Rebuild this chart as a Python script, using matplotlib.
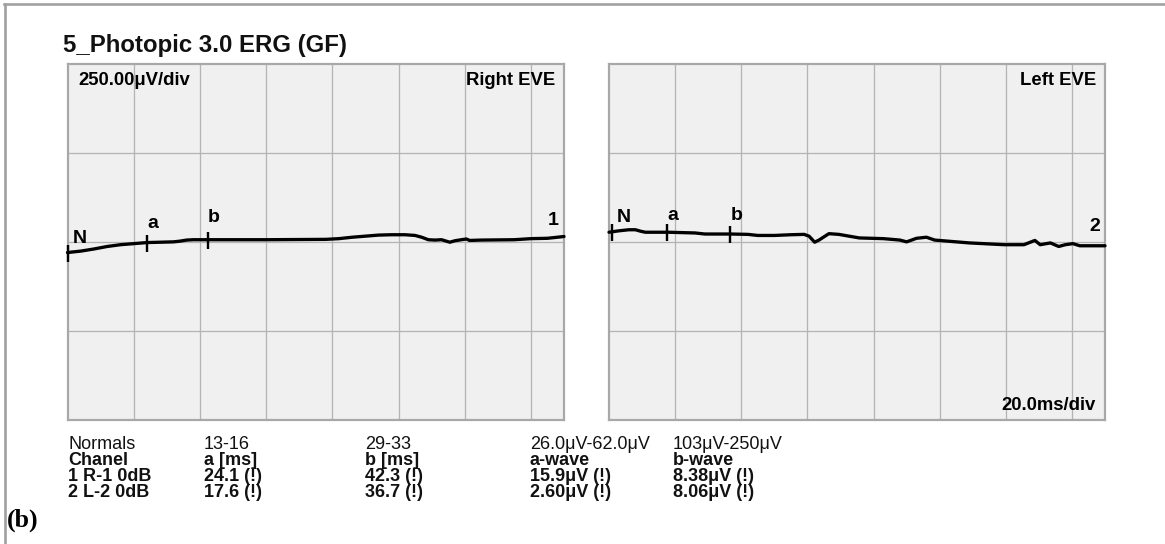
import numpy as np
import matplotlib
matplotlib.use("Agg")
import matplotlib.pyplot as plt
from matplotlib.lines import Line2D

# ---------------- data ----------------
title = "5_Photopic 3.0 ERG (GF)"
amp_scale_label = "250.00μV/div"
time_scale_label = "20.0ms/div"
panel_names = ["Right EVE", "Left EVE"]
channel_ids = ["1", "2"]

# Right eye trace (time ms, amplitude µV)
right_t = [0, 4, 8, 12, 16, 20, 24, 28, 32, 34, 36, 38, 42, 60, 78, 82, 86, 90,
           94, 98, 102, 105, 107, 109, 111, 113, 115.5, 117, 119, 120.5, 121.5,
           125, 135, 140, 145, 150]
right_v = [-31, -27, -21, -14, -9, -6, -3, -2, -1, 1, 4, 5, 5, 5, 6, 8, 12, 15,
           18, 19, 19, 17, 12, 5, 4, 5, -2, 2, 5, 7, 3,
           4, 5, 8, 9, 14]

# Left eye trace
left_t = [0, 3, 6, 8, 9.5, 11, 18, 26, 29, 37, 42, 45, 50, 55, 59, 60.5, 62.2,
          63.5, 66.5, 69.5, 75.7, 83, 88, 90, 93, 96, 98.5, 109, 119.5, 125.5,
          128.8, 130.4, 133.5, 136, 138, 140.3, 142.4, 150]
left_v = [26, 30, 33, 33, 29, 26, 26, 24, 21, 21, 20, 17, 17, 19, 20, 15, -2,
          4, 22, 20, 10, 8, 4, -1, 9, 12, 4, -4, -9, -9,
          3, -9, -4, -14, -9, -6, -12, -12]

# Marker times (N, a, b)
marker_names = ["N", "a", "b"]
right_markers = [0.0, 24.1, 42.3]
left_markers = [0.8, 17.6, 36.7]

# Results table
table_cols = [
    ["Normals", "Chanel", "1 R-1 0dB", "2 L-2 0dB"],
    ["13-16", "a [ms]", "24.1 (!)", "17.6 (!)"],
    ["29-33", "b [ms]", "42.3 (!)", "36.7 (!)"],
    ["26.0μV-62.0μV", "a-wave", "15.9μV (!)", "2.60μV (!)"],
    ["103μV-250μV", "b-wave", "8.38μV (!)", "8.06μV (!)"],
]
figure_tag = "(b)"

# ---------------- layout ----------------
W, H = 1165, 544
DPI = 100
fig = plt.figure(figsize=(W / DPI, H / DPI), dpi=DPI)
fig.patch.set_facecolor("white")
plt.rcParams["font.family"] = ["Liberation Sans", "DejaVu Sans"]

def fx(x):
    return x / W

def fy(y):
    return 1 - y / H

def pt(px):
    return px * 72 / DPI

# outer frame (left and top)
frame_col = "#a0a0a0"
fig.add_artist(Line2D([fx(4.7), fx(4.7)], [fy(4), fy(H + 5)], color=frame_col,
                      lw=pt(2.6), transform=fig.transFigure))
fig.add_artist(Line2D([fx(4), fx(W + 5)], [fy(4.3), fy(4.3)], color=frame_col,
                      lw=pt(2.6), transform=fig.transFigure))

fig.text(fx(63), fy(51.7), title, fontsize=pt(24), fontweight="bold",
         ha="left", va="baseline", color="#111111")

panel_y0, panel_y1 = 63.5, 419.5
panels_x = [(67.5, 564), (609, 1105)]
traces = [(right_t, right_v, right_markers), (left_t, left_v, left_markers)]
# label offsets in px (dx, dy) for N, a, b and the channel number
label_off = [[(5, 10), (0, 15), (0, 18)], [(5, 10), (0, 12), (0, 14)]]
chan_off = [(-5, 12), (-5, 15)]

for i, ((x0, x1), (tt, vv, mk)) in enumerate(zip(panels_x, traces)):
    ax = fig.add_axes([fx(x0), fy(panel_y1), (x1 - x0) / W, (panel_y1 - panel_y0) / H])
    ax.set_facecolor("#f0f0f0")
    ax.set_xlim(0, 150)
    ax.set_ylim(-500, 500)
    ax.set_xticks(np.arange(20, 150, 20))
    ax.set_yticks([-250, 0, 250])
    ax.tick_params(length=0, labelbottom=False, labelleft=False)
    ax.grid(True, color="#b4b4b4", lw=pt(1.3))
    ax.set_axisbelow(True)
    for s in ax.spines.values():
        s.set_color("#a8a8a8")
        s.set_linewidth(pt(2.2))

    ax.plot(tt, vv, color="black", lw=pt(3.3), solid_capstyle="round",
            solid_joinstyle="round", clip_on=False, zorder=5)

    mv = np.interp(mk, tt, vv)
    ax.plot(mk, mv, ls="none", marker="|", markersize=pt(17), mew=pt(2.4),
            color="black", zorder=6, clip_on=False)
    for name, t, v, (dx, dy) in zip(marker_names, mk, mv, label_off[i]):
        ax.annotate(name, (t, v), xytext=(pt(dx), pt(dy)), textcoords="offset points",
                    ha="left", va="baseline", fontsize=pt(19.5), fontweight="bold", zorder=7)
    cdx, cdy = chan_off[i]
    ax.annotate(channel_ids[i], (tt[-1], vv[-1]), xytext=(pt(cdx), pt(cdy)),
                textcoords="offset points", ha="right", va="baseline",
                fontsize=pt(19.5), fontweight="bold", zorder=7)

    ax.text((x1 - 9 - x0) / (x1 - x0), 1 - (85 - panel_y0) / (panel_y1 - panel_y0),
            panel_names[i], transform=ax.transAxes, ha="right", va="baseline",
            fontsize=pt(18.5), fontweight="bold")
    if i == 0:
        ax.text((78 - x0) / (x1 - x0), 1 - (85 - panel_y0) / (panel_y1 - panel_y0),
                amp_scale_label, transform=ax.transAxes, ha="left", va="baseline",
                fontsize=pt(18.5), fontweight="bold")
    else:
        ax.text((x1 - 9 - x0) / (x1 - x0), 1 - (410 - panel_y0) / (panel_y1 - panel_y0),
                time_scale_label, transform=ax.transAxes, ha="right", va="baseline",
                fontsize=pt(18.5), fontweight="bold")

col_x = [68, 204, 365, 530, 673]
row_y = [449, 465, 481, 497]
for cx, col in zip(col_x, table_cols):
    for r, (ry, txt) in enumerate(zip(row_y, col)):
        fig.text(fx(cx), fy(ry), txt, fontsize=pt(18),
                 fontweight="normal" if r == 0 else "bold",
                 ha="left", va="baseline", color="#111111")

fig.text(fx(7), fy(527), figure_tag, fontsize=pt(26), fontweight="bold",
         family=["Liberation Serif", "DejaVu Serif"], ha="left", va="baseline")

fig.savefig("out.png", dpi=DPI)
